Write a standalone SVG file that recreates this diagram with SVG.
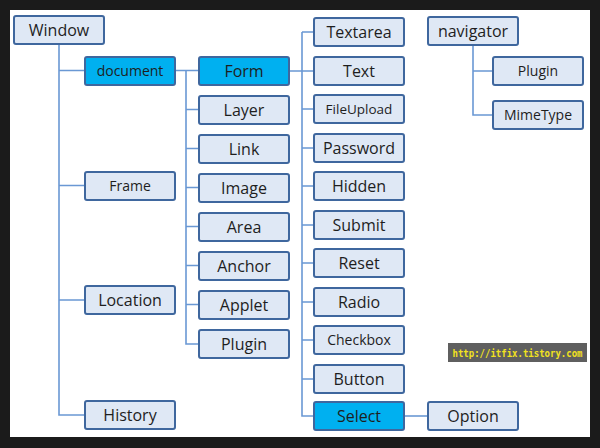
<svg xmlns="http://www.w3.org/2000/svg" width="600" height="448" viewBox="0 0 600 448">
<style>
.b{fill:#dfe8f5;stroke:#3f679e;stroke-width:2}
.h{fill:#00b0f0;stroke:#3f679e;stroke-width:2}
text{font-family:"Open Sans","Noto Sans",sans-serif;fill:#1e1e1e;text-anchor:middle}
.c{fill:none;stroke:#6a98d4;stroke-width:1.6}
</style>
<rect x="0" y="0" width="600" height="448" fill="#1b1b1b"/>
<rect x="10" y="10" width="580" height="427" fill="#ffffff"/>
<g id="connectors" class="c">
<path d="M59,44V415H85M59,70.5H85M59,185.5H85M59,300H85"/>
<path d="M175,70.5H199M186,70.5V344H199M186,109.5H199M186,148.5H199M186,187.5H199M186,226.5H199M186,265.5H199M186,304.5H199"/>
<path d="M289,71H314M302,32V416H314M302,32H314M302,109H314M302,148H314M302,186H314M302,225H314M302,263H314M302,302H314M302,340H314M302,379H314"/>
<path d="M404,416H428"/>
<path d="M473,45V115H493M473,71H493"/>
</g>
<g id="n-window"><rect class="b" x="14" y="16" width="90" height="28" rx="2"/><text x="59" y="35.6" font-size="16">Window</text></g>
<g id="n-document"><rect class="h" x="85" y="57" width="90" height="28" rx="2"/><text x="130" y="76" font-size="14">document</text></g>
<g id="n-frame"><rect class="b" x="85" y="172" width="90" height="28" rx="2"/><text x="130" y="191" font-size="14">Frame</text></g>
<g id="n-location"><rect class="b" x="85" y="286" width="90" height="28" rx="2"/><text x="130" y="305.6" font-size="16">Location</text></g>
<g id="n-history"><rect class="b" x="85" y="401" width="90" height="28" rx="2"/><text x="130" y="420.6" font-size="16">History</text></g>
<g id="n-form"><rect class="h" x="199" y="57" width="90" height="28" rx="2"/><text x="244" y="76.6" font-size="16">Form</text></g>
<g id="n-layer"><rect class="b" x="199" y="96" width="90" height="28" rx="2"/><text x="244" y="115.6" font-size="16">Layer</text></g>
<g id="n-link"><rect class="b" x="199" y="135" width="90" height="28" rx="2"/><text x="244" y="154.6" font-size="16">Link</text></g>
<g id="n-image"><rect class="b" x="199" y="174" width="90" height="28" rx="2"/><text x="244" y="193.6" font-size="16">Image</text></g>
<g id="n-area"><rect class="b" x="199" y="213" width="90" height="28" rx="2"/><text x="244" y="232.6" font-size="16">Area</text></g>
<g id="n-anchor"><rect class="b" x="199" y="252" width="90" height="28" rx="2"/><text x="244" y="271.6" font-size="16">Anchor</text></g>
<g id="n-applet"><rect class="b" x="199" y="291" width="90" height="28" rx="2"/><text x="244" y="310.6" font-size="16">Applet</text></g>
<g id="n-plugin1"><rect class="b" x="199" y="330" width="90" height="28" rx="2"/><text x="244" y="349.6" font-size="16">Plugin</text></g>
<g id="n-textarea"><rect class="b" x="314" y="18" width="90" height="28" rx="2"/><text x="359" y="37.6" font-size="16">Textarea</text></g>
<g id="n-text"><rect class="b" x="314" y="57" width="90" height="28" rx="2"/><text x="359" y="76.6" font-size="16">Text</text></g>
<g id="n-fileupload"><rect class="b" x="314" y="95" width="90" height="28" rx="2"/><text x="359" y="114" font-size="13.5">FileUpload</text></g>
<g id="n-password"><rect class="b" x="314" y="134" width="90" height="28" rx="2"/><text x="359" y="153.6" font-size="16">Password</text></g>
<g id="n-hidden"><rect class="b" x="314" y="172" width="90" height="28" rx="2"/><text x="359" y="191.6" font-size="16">Hidden</text></g>
<g id="n-submit"><rect class="b" x="314" y="211" width="90" height="28" rx="2"/><text x="359" y="230.6" font-size="16">Submit</text></g>
<g id="n-reset"><rect class="b" x="314" y="249" width="90" height="28" rx="2"/><text x="359" y="268.6" font-size="16">Reset</text></g>
<g id="n-radio"><rect class="b" x="314" y="288" width="90" height="28" rx="2"/><text x="359" y="307.6" font-size="16">Radio</text></g>
<g id="n-checkbox"><rect class="b" x="314" y="326" width="90" height="28" rx="2"/><text x="359" y="345" font-size="14">Checkbox</text></g>
<g id="n-button"><rect class="b" x="314" y="365" width="90" height="28" rx="2"/><text x="359" y="384.6" font-size="16">Button</text></g>
<g id="n-select"><rect class="h" x="314" y="402" width="90" height="28" rx="2"/><text x="359" y="421.6" font-size="16">Select</text></g>
<g id="n-option"><rect class="b" x="428" y="402" width="90" height="28" rx="2"/><text x="473" y="421.6" font-size="16">Option</text></g>
<g id="n-navigator"><rect class="b" x="428" y="17" width="90" height="28" rx="2"/><text x="473" y="36.6" font-size="16">navigator</text></g>
<g id="n-plugin2"><rect class="b" x="493" y="57" width="90" height="28" rx="2"/><text x="538" y="76" font-size="14">Plugin</text></g>
<g id="n-mimetype"><rect class="b" x="493" y="101" width="90" height="28" rx="2"/><text x="538" y="120" font-size="14">MimeType</text></g>
<g id="watermark"><rect x="448" y="343" width="139" height="19" fill="#5f5f5f"/><text x="517.5" y="356.5" font-size="10" textLength="130" lengthAdjust="spacingAndGlyphs" style="font-family:'DejaVu Sans Mono','Liberation Mono',monospace;font-weight:bold;fill:#f2e21e">http://itfix.tistory.com</text></g>
</svg>
